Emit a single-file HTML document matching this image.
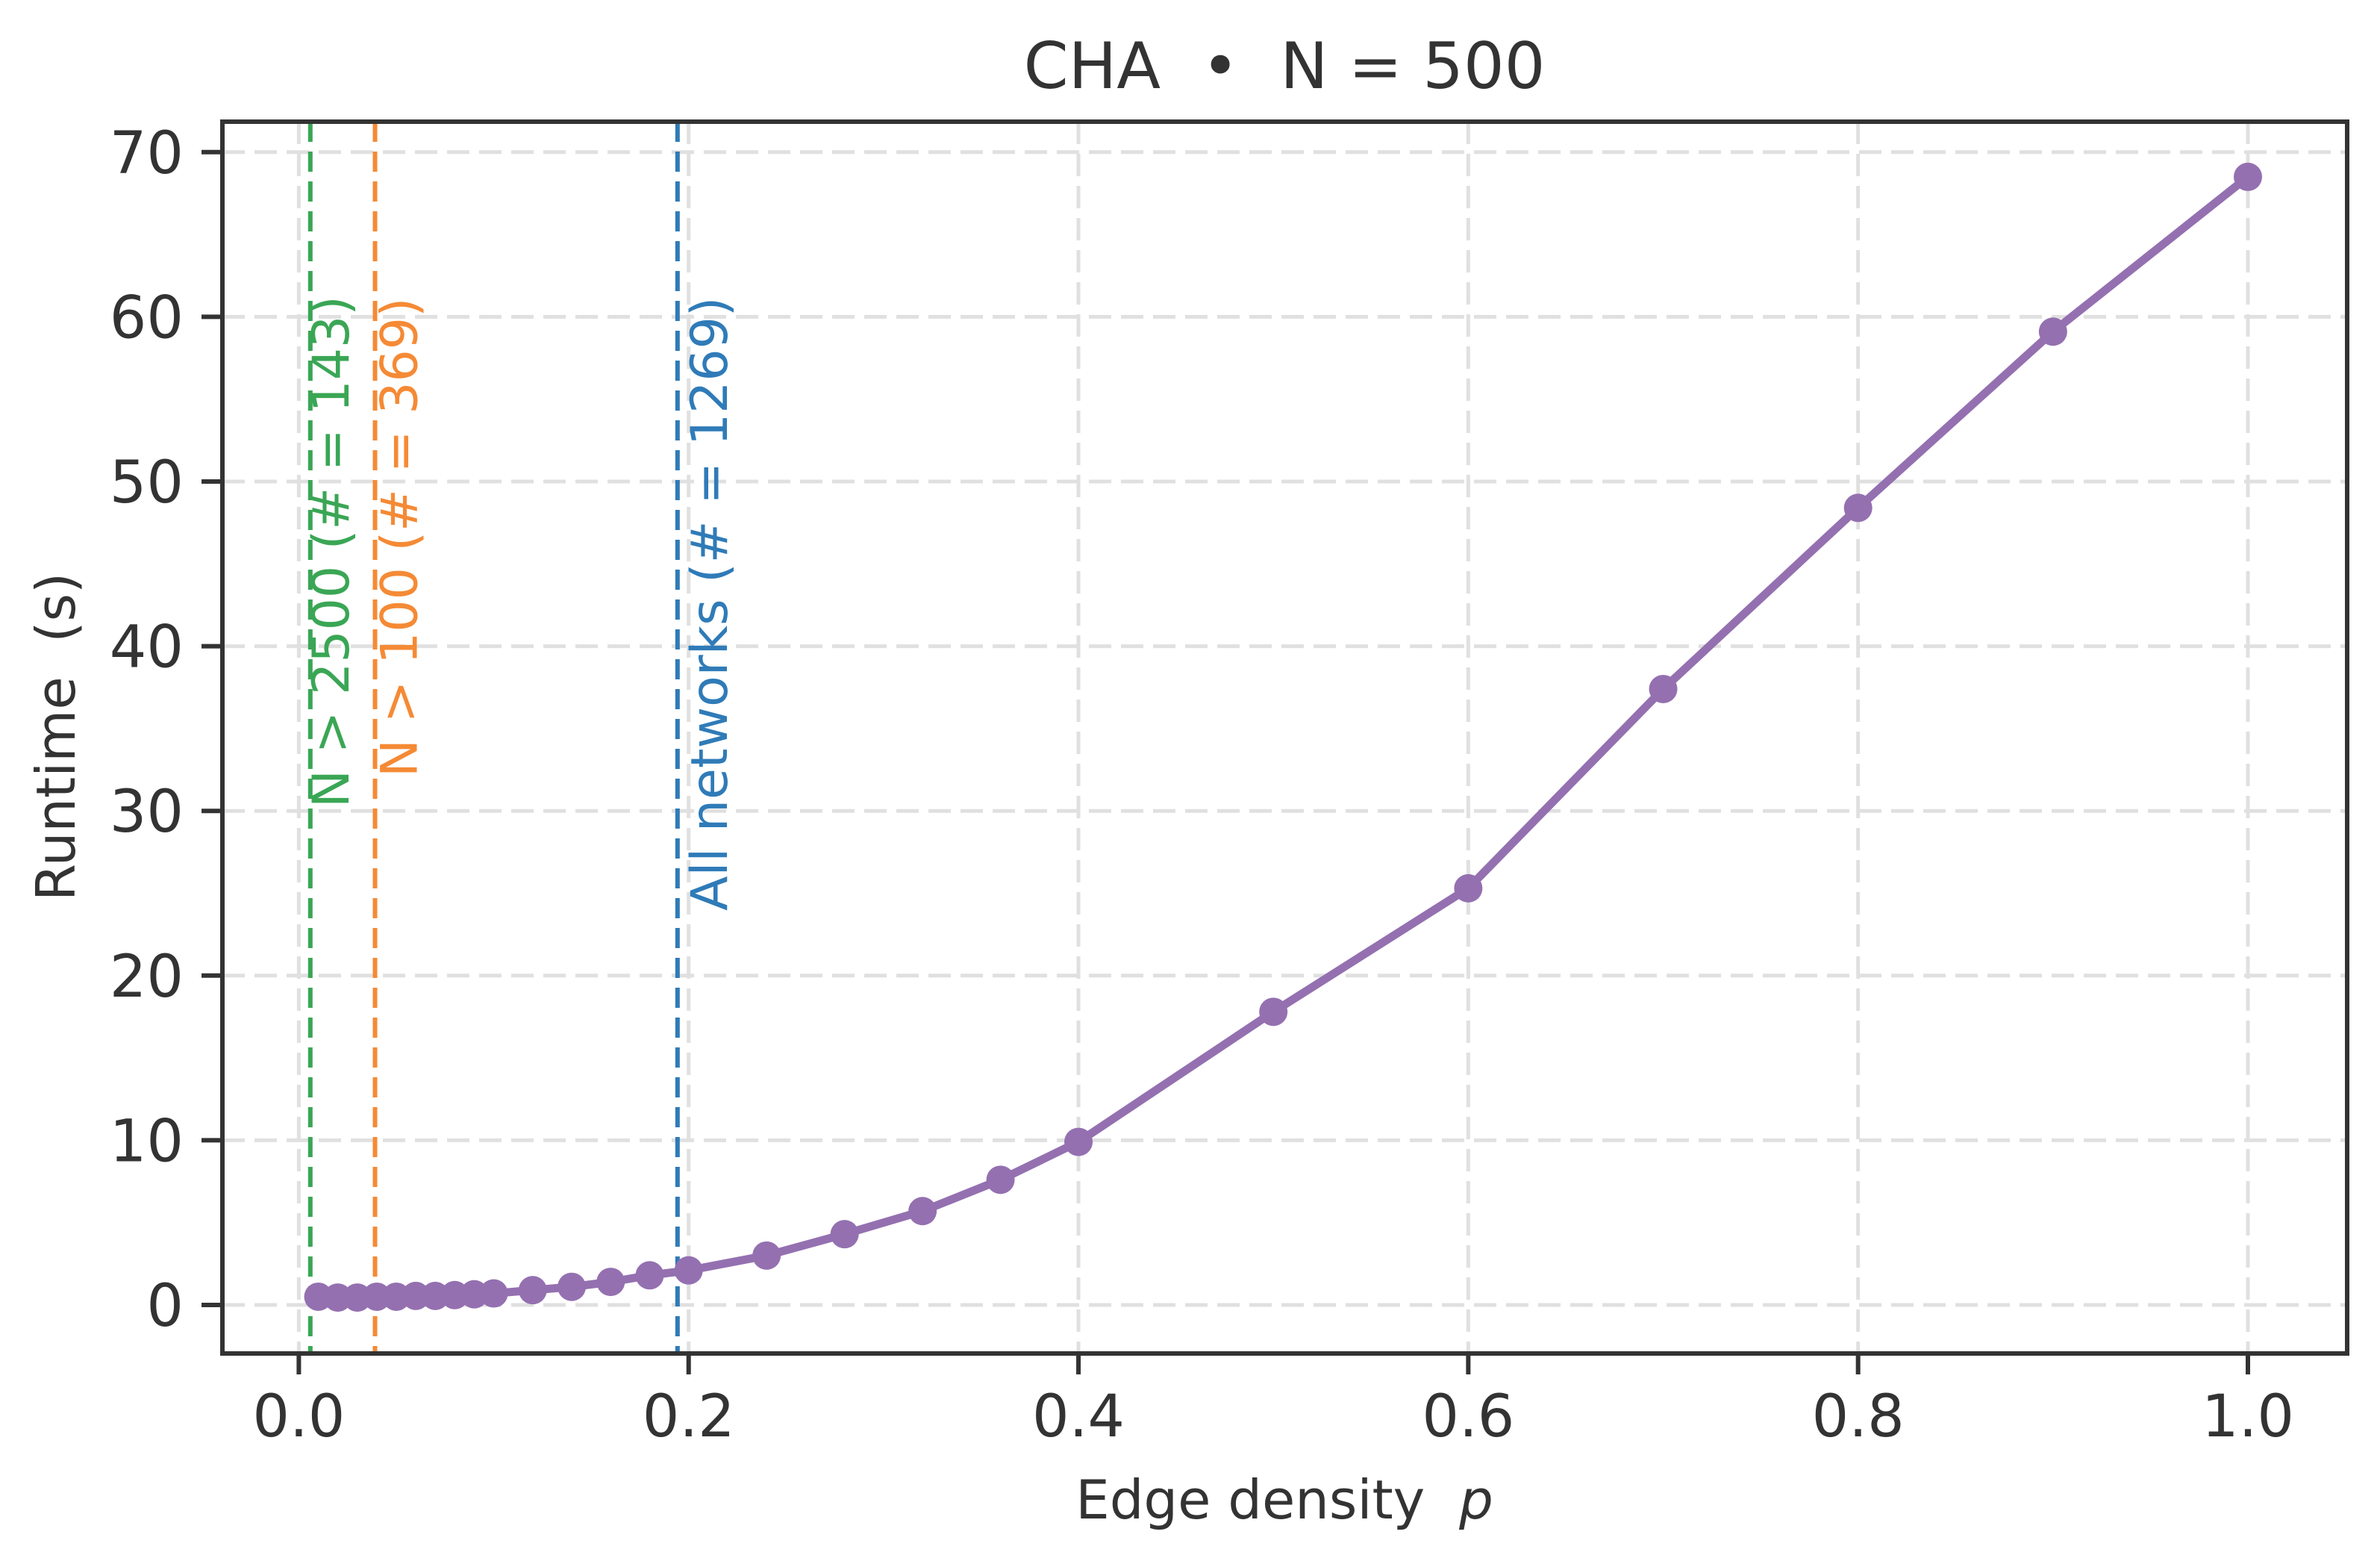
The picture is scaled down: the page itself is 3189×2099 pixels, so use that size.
<!DOCTYPE html>
<html><head><meta charset="utf-8"><style>
html,body{margin:0;padding:0;background:#fff;}
svg{display:block;font-family:"DejaVu Sans","Liberation Sans",sans-serif;}
text{white-space:pre;}
</style></head><body>
<svg id="chart" width="3189" height="2099" viewBox="0 0 3189 2099">
<g id="grid"></g>
<g id="refs"></g>
<g id="series"></g>
<rect x="298" y="163" width="2847" height="1650" fill="none" stroke="#333" stroke-width="6"/>
<g id="axes"></g>
<text x="1721" y="118" text-anchor="middle" font-size="86" fill="#333">CHA &#160;•&#160; N = 500</text>
<text x="1721" y="2034" text-anchor="middle" font-size="72" fill="#333">Edge density &#160;<tspan font-style="italic">p</tspan></text>
<text transform="translate(100,987) rotate(-90)" text-anchor="middle" font-size="72" fill="#333">Runtime &#160;(s)</text>
</svg>
<script>
const densities=[0.01,0.02,0.03,0.04,0.05,0.06,0.07,0.08,0.09,0.10,0.12,0.14,0.16,0.18,0.20,0.24,0.28,0.32,0.36,0.40,0.5,0.6,0.7,0.8,0.9,1.0];
const runtimes=[0.5,0.45,0.45,0.5,0.5,0.55,0.55,0.6,0.65,0.7,0.9,1.1,1.4,1.8,2.1,3.0,4.3,5.7,7.6,9.9,17.8,25.3,37.4,48.4,59.1,68.5];
const xTicks=[0,0.2,0.4,0.6,0.8,1.0];
const xTickLabels=["0.0","0.2","0.4","0.6","0.8","1.0"];
const yTicks=[0,10,20,30,40,50,60,70];
const refPositions=[0.0059,0.0391,0.1943];
const refLabels=["N > 2500 (# = 143)","N > 100 (# = 369)","All networks (# = 1269)"];
const refColors=["#3aa655","#f58a35","#2f7bb8"];
const refNames=["ref-line-n2500","ref-line-n100","ref-line-all"];

const NS="http://www.w3.org/2000/svg";
const X=v=>400.4+v*2611.6;
const Y=v=>1748-v*22.06;
function mk(tag,attrs,parent){const e=document.createElementNS(NS,tag);for(const k in attrs)e.setAttribute(k,attrs[k]);parent.appendChild(e);return e;}
const grid=document.getElementById('grid'),axes=document.getElementById('axes'),refs=document.getElementById('refs'),series=document.getElementById('series');

xTicks.forEach((t,i)=>{
  const g=mk('line',{x1:X(t),x2:X(t),y1:163,y2:1813,stroke:'#e0e0e0','stroke-width':5,'stroke-dasharray':'30 13'},grid);
  
  
  const tk=mk('line',{x1:X(t),x2:X(t),y1:1813,y2:1841,stroke:'#333','stroke-width':6},axes);
  
  
  const tl=mk('text',{x:X(t),y:1924,'text-anchor':'middle','font-size':78,fill:'#333'},axes);
  tl.textContent=xTickLabels[i];
  
  
});
yTicks.forEach(t=>{
  const g=mk('line',{x1:298,x2:3145,y1:Y(t),y2:Y(t),stroke:'#e0e0e0','stroke-width':5,'stroke-dasharray':'30 13'},grid);
  
  
  const tk=mk('line',{x1:270,x2:298,y1:Y(t),y2:Y(t),stroke:'#333','stroke-width':6},axes);
  
  
  const tl=mk('text',{x:246,y:Y(t)+28,'text-anchor':'end','font-size':78,fill:'#333'},axes);
  tl.textContent=String(t);
  
  
});
const labelOffsets=[51,56,66];
const labelBottoms=[1082,1041,1220];
refPositions.forEach((p,i)=>{
  const l=mk('line',{x1:X(p),x2:X(p),y1:163,y2:1813,stroke:refColors[i],'stroke-width':6,'stroke-dasharray':'27 13'},refs);
  
  
  const t=mk('text',{transform:`translate(${X(p)+labelOffsets[i]},${labelBottoms[i]}) rotate(-90)`,'font-size':68,fill:refColors[i]},refs);
  t.textContent=refLabels[i];
  
  
});
const pts=densities.map((d,i)=>X(d)+','+Y(runtimes[i])).join(' ');
const pl=mk('polyline',{points:pts,fill:'none',stroke:'#9470b0','stroke-width':11,'stroke-linejoin':'round'},series);


densities.forEach((d,i)=>{
  const c=mk('circle',{cx:X(d),cy:Y(runtimes[i]),r:19,fill:'#9470b0'},series);
  
  
});
</script>
</body></html>
